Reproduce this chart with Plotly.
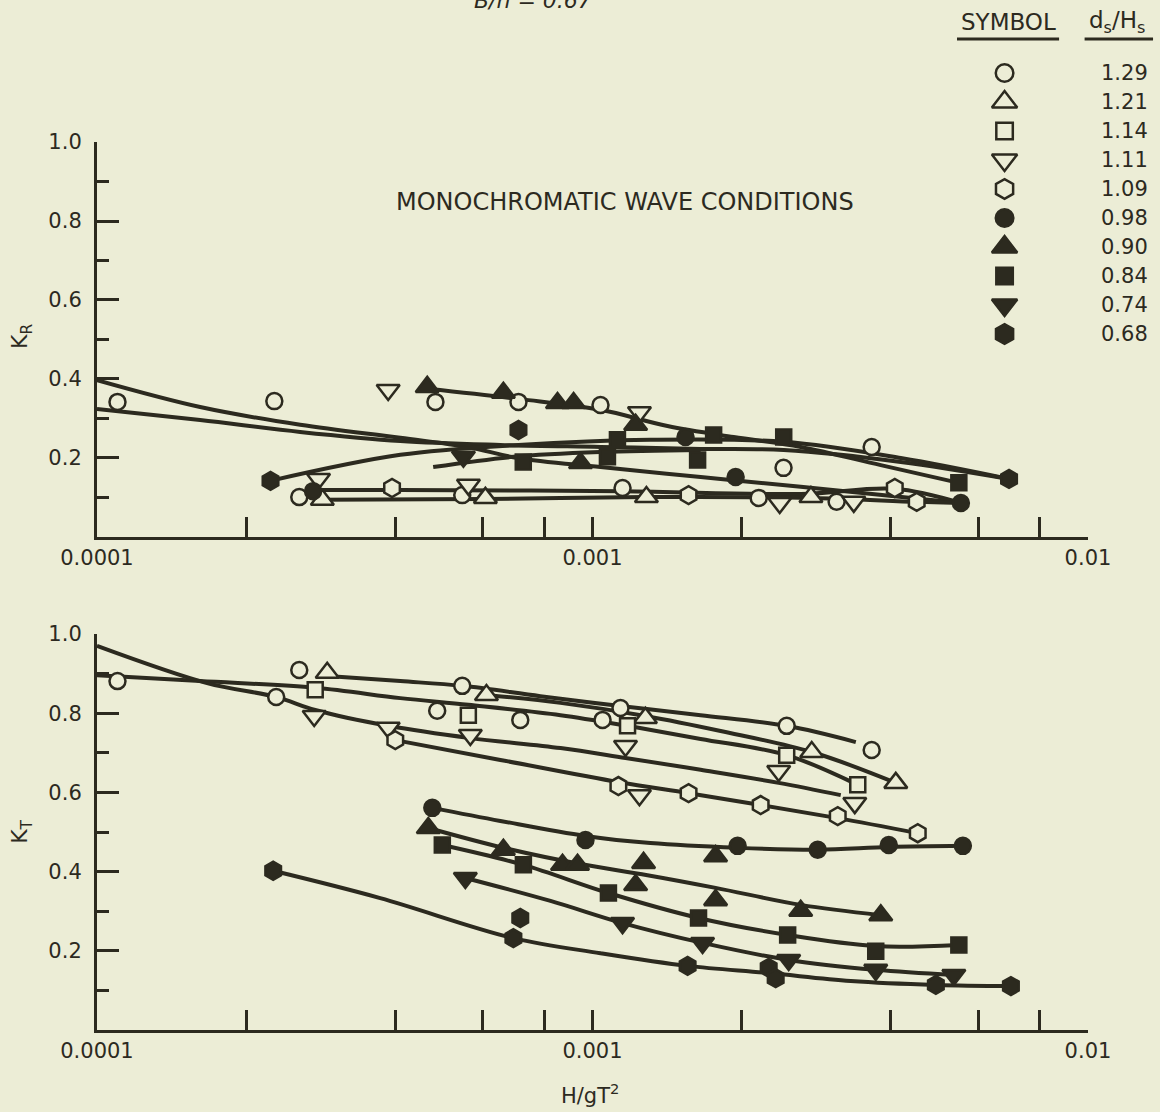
import plotly.graph_objects as go

INK = "#2c2a1f"
PAPER = "#ecedd6"
FONT = "DejaVu Sans, Liberation Sans, Arial, sans-serif"

# legend key: d_s/H_s values and their symbols
DS_HS = ["1.29", "1.21", "1.14", "1.11", "1.09", "0.98", "0.90", "0.84", "0.74", "0.68"]
SYMBOLS = ["circle", "triangle-up", "square", "triangle-down", "hexagon",
           "circle", "triangle-up", "square", "triangle-down", "hexagon"]
FILLED = [False] * 5 + [True] * 5

X_TICKS = [0.0001, 0.0002, 0.0004, 0.0006, 0.0008, 0.001, 0.002, 0.004, 0.006, 0.008, 0.01]
X_TICK_TEXT = ["0.0001", "", "", "", "", "0.001", "", "", "", "", "0.01"]
Y_TICKS = [0.2, 0.4, 0.6, 0.8, 1.0]
Y_TICK_TEXT = ["0.2", "0.4", "0.6", "0.8", "1.0"]
Y_MINOR = [0.1, 0.3, 0.5, 0.7, 0.9]

# ---- K_R (top panel) measured points ----
KR_X_129 = [1.10e-4, 2.28e-4, 4.82e-4, 7.09e-4, 1.038e-3, 3.66e-3, 2.56e-4, 5.46e-4, 1.15e-3, 2.165e-3, 2.43e-3, 3.11e-3]
KR_Y_129 = [0.342, 0.344, 0.342, 0.342, 0.334, 0.228, 0.101, 0.106, 0.124, 0.099, 0.175, 0.089]
KR_X_121 = [2.85e-4, 6.08e-4, 1.285e-3, 2.76e-3]
KR_Y_121 = [0.094, 0.099, 0.101, 0.101]
KR_X_114 = []
KR_Y_114 = []
KR_X_111 = [3.87e-4, 2.80e-4, 5.62e-4, 1.244e-3, 2.387e-3, 3.368e-3]
KR_Y_111 = [0.372, 0.147, 0.132, 0.316, 0.086, 0.089]
KR_X_109 = [3.94e-4, 1.563e-3, 4.075e-3, 4.512e-3]
KR_Y_109 = [0.124, 0.106, 0.124, 0.089]
KR_X_098 = [2.73e-4, 1.541e-3, 1.945e-3, 5.54e-3]
KR_Y_098 = [0.116, 0.253, 0.152, 0.086]
KR_X_090 = [4.64e-4, 6.61e-4, 8.50e-4, 9.16e-4, 1.222e-3, 9.46e-4]
KR_Y_090 = [0.380, 0.365, 0.339, 0.339, 0.284, 0.187]
KR_X_084 = [7.25e-4, 1.072e-3, 1.123e-3, 1.630e-3, 1.756e-3, 2.432e-3, 5.488e-3]
KR_Y_084 = [0.190, 0.203, 0.246, 0.195, 0.258, 0.253, 0.137]
KR_X_074 = [5.49e-4]
KR_Y_074 = [0.203]
KR_X_068 = [2.24e-4, 7.09e-4, 6.93e-3]
KR_Y_068 = [0.142, 0.271, 0.147]

# ---- K_R fitted curves ----
KR_CURVE_A_X = [1.0e-4, 1.615e-4, 2.571e-4, 4.095e-4, 5.59e-4, 7.055e-4, 1.038e-3, 1.653e-3, 2.632e-3, 5.539e-3]
KR_CURVE_A_Y = [0.397, 0.329, 0.284, 0.251, 0.228, 0.200, 0.177, 0.152, 0.127, 0.086]
KR_CURVE_B_X = [1.0e-4, 1.615e-4, 2.571e-4, 4.095e-4, 6.518e-4, 1.038e-3, 1.653e-3, 2.432e-3, 4.19e-3, 6.925e-3]
KR_CURVE_B_Y = [0.324, 0.296, 0.266, 0.243, 0.233, 0.228, 0.223, 0.220, 0.190, 0.147]
KR_CURVE_C_X = [4.64e-4, 7.15e-4, 1.038e-3, 1.417e-3, 1.927e-3, 2.632e-3, 3.818e-3, 5.488e-3]
KR_CURVE_C_Y = [0.375, 0.349, 0.322, 0.281, 0.253, 0.228, 0.182, 0.137]
KR_CURVE_D_X = [2.236e-4, 4.095e-4, 7.088e-4, 1.309e-3, 2.432e-3, 4.19e-3, 6.925e-3]
KR_CURVE_D_Y = [0.142, 0.208, 0.233, 0.246, 0.241, 0.200, 0.147]
KR_CURVE_E_X = [4.77e-4, 6.93e-4, 1.038e-3, 1.653e-3]
KR_CURVE_E_Y = [0.177, 0.203, 0.215, 0.220]
KR_CURVE_F_X = [2.732e-4, 4.095e-4, 1.150e-3, 2.632e-3, 4.075e-3, 5.539e-3]
KR_CURVE_F_Y = [0.119, 0.119, 0.116, 0.109, 0.122, 0.086]
KR_CURVE_G_X = [2.848e-4, 6.078e-4, 1.285e-3, 2.757e-3, 4.512e-3, 5.539e-3]
KR_CURVE_G_Y = [0.094, 0.096, 0.101, 0.099, 0.089, 0.086]

# ---- K_T (bottom panel) measured points ----
KT_X_129 = [1.10e-4, 2.56e-4, 2.30e-4, 5.46e-4, 4.86e-4, 7.15e-4, 1.048e-3, 1.139e-3, 2.466e-3, 3.66e-3]
KT_Y_129 = [0.881, 0.909, 0.841, 0.869, 0.806, 0.783, 0.783, 0.813, 0.768, 0.707]
KT_X_121 = [2.915e-4, 6.11e-4, 1.279e-3, 2.77e-3, 4.094e-3]
KT_Y_121 = [0.902, 0.846, 0.788, 0.702, 0.624]
KT_X_114 = [2.757e-4, 5.617e-4, 1.177e-3, 2.466e-3, 3.431e-3]
KT_Y_114 = [0.859, 0.795, 0.768, 0.694, 0.619]
KT_X_111 = [2.744e-4, 3.871e-4, 5.669e-4, 1.166e-3, 1.244e-3, 2.376e-3, 3.384e-3]
KT_Y_111 = [0.793, 0.763, 0.745, 0.717, 0.593, 0.654, 0.573]
KT_X_109 = [4.0e-4, 1.128e-3, 1.563e-3, 2.185e-3, 3.126e-3, 4.534e-3]
KT_Y_109 = [0.732, 0.616, 0.598, 0.568, 0.540, 0.497]
KT_X_098 = [4.751e-4, 9.68e-4, 1.963e-3, 2.848e-3, 3.963e-3, 5.591e-3]
KT_Y_098 = [0.561, 0.480, 0.465, 0.455, 0.467, 0.465]
KT_X_090 = [4.663e-4, 6.61e-4, 8.70e-4, 9.33e-4, 1.222e-3, 1.268e-3, 1.772e-3, 1.772e-3, 2.632e-3, 3.818e-3]
KT_Y_090 = [0.510, 0.455, 0.417, 0.417, 0.366, 0.422, 0.439, 0.328, 0.301, 0.290]
KT_X_084 = [4.977e-4, 7.254e-4, 1.077e-3, 1.637e-3, 2.477e-3, 3.73e-3, 5.488e-3]
KT_Y_084 = [0.467, 0.417, 0.346, 0.283, 0.240, 0.199, 0.215]
KT_X_074 = [5.539e-4, 1.150e-3, 1.668e-3, 2.489e-3, 3.73e-3, 5.362e-3]
KT_Y_074 = [0.384, 0.270, 0.220, 0.177, 0.152, 0.139]
KT_X_068 = [2.268e-4, 7.15e-4, 6.925e-4, 1.556e-3, 2.268e-3, 2.343e-3, 4.932e-3, 6.99e-3]
KT_Y_068 = [0.402, 0.283, 0.232, 0.162, 0.157, 0.131, 0.114, 0.111]

# ---- K_T fitted curves ----
KT_CURVE_129_X = [2.915e-4, 4.095e-4, 5.463e-4, 7.85e-4, 1.139e-3, 1.653e-3, 2.466e-3, 3.400e-3]
KT_CURVE_129_Y = [0.894, 0.881, 0.869, 0.843, 0.818, 0.795, 0.768, 0.727]
KT_CURVE_121_X = [6.107e-4, 8.62e-4, 1.279e-3, 1.814e-3, 2.770e-3, 4.094e-3]
KT_CURVE_121_Y = [0.846, 0.826, 0.793, 0.755, 0.702, 0.624]
KT_CURVE_114_X = [1.0e-4, 1.615e-4, 2.757e-4, 4.095e-4, 5.617e-4, 8.62e-4, 1.177e-3, 1.653e-3, 2.466e-3, 3.431e-3]
KT_CURVE_114_Y = [0.896, 0.881, 0.864, 0.838, 0.821, 0.795, 0.768, 0.735, 0.694, 0.619]
KT_CURVE_111_X = [1.0e-4, 1.668e-4, 2.299e-4, 2.757e-4, 3.871e-4, 5.669e-4, 8.62e-4, 1.166e-3, 1.653e-3, 2.376e-3, 3.170e-3]
KT_CURVE_111_Y = [0.970, 0.876, 0.841, 0.808, 0.768, 0.737, 0.712, 0.687, 0.657, 0.624, 0.593]
KT_CURVE_109_X = [4.0e-4, 6.518e-4, 1.128e-3, 1.563e-3, 2.185e-3, 3.126e-3, 4.534e-3]
KT_CURVE_109_Y = [0.732, 0.682, 0.626, 0.598, 0.568, 0.535, 0.497]
KT_CURVE_098_X = [4.751e-4, 6.518e-4, 9.681e-4, 1.309e-3, 1.963e-3, 2.848e-3, 3.963e-3, 5.591e-3]
KT_CURVE_098_Y = [0.561, 0.528, 0.490, 0.472, 0.460, 0.455, 0.462, 0.465]
KT_CURVE_090_X = [4.663e-4, 6.610e-4, 9.458e-4, 1.291e-3, 1.772e-3, 2.632e-3, 3.818e-3]
KT_CURVE_090_Y = [0.510, 0.460, 0.419, 0.391, 0.359, 0.316, 0.290]
KT_CURVE_084_X = [4.977e-4, 7.254e-4, 1.077e-3, 1.637e-3, 2.477e-3, 3.730e-3, 5.488e-3]
KT_CURVE_084_Y = [0.467, 0.417, 0.346, 0.283, 0.240, 0.212, 0.215]
KT_CURVE_074_X = [5.539e-4, 8.228e-4, 1.150e-3, 1.668e-3, 2.489e-3, 3.730e-3, 5.362e-3]
KT_CURVE_074_Y = [0.384, 0.326, 0.270, 0.220, 0.177, 0.152, 0.139]
KT_CURVE_068_X = [2.268e-4, 3.730e-4, 6.925e-4, 1.038e-3, 1.556e-3, 2.268e-3, 3.321e-3, 4.932e-3, 6.990e-3]
KT_CURVE_068_Y = [0.402, 0.333, 0.232, 0.194, 0.162, 0.144, 0.124, 0.114, 0.111]

KR_POINTS = [(KR_X_129, KR_Y_129), (KR_X_121, KR_Y_121), (KR_X_114, KR_Y_114), (KR_X_111, KR_Y_111),
             (KR_X_109, KR_Y_109), (KR_X_098, KR_Y_098), (KR_X_090, KR_Y_090), (KR_X_084, KR_Y_084),
             (KR_X_074, KR_Y_074), (KR_X_068, KR_Y_068)]
KT_POINTS = [(KT_X_129, KT_Y_129), (KT_X_121, KT_Y_121), (KT_X_114, KT_Y_114), (KT_X_111, KT_Y_111),
             (KT_X_109, KT_Y_109), (KT_X_098, KT_Y_098), (KT_X_090, KT_Y_090), (KT_X_084, KT_Y_084),
             (KT_X_074, KT_Y_074), (KT_X_068, KT_Y_068)]
KR_CURVES = [(KR_CURVE_A_X, KR_CURVE_A_Y), (KR_CURVE_B_X, KR_CURVE_B_Y), (KR_CURVE_C_X, KR_CURVE_C_Y),
             (KR_CURVE_D_X, KR_CURVE_D_Y), (KR_CURVE_E_X, KR_CURVE_E_Y), (KR_CURVE_F_X, KR_CURVE_F_Y),
             (KR_CURVE_G_X, KR_CURVE_G_Y)]
KT_CURVES = [(KT_CURVE_129_X, KT_CURVE_129_Y), (KT_CURVE_121_X, KT_CURVE_121_Y),
             (KT_CURVE_114_X, KT_CURVE_114_Y), (KT_CURVE_111_X, KT_CURVE_111_Y),
             (KT_CURVE_109_X, KT_CURVE_109_Y), (KT_CURVE_098_X, KT_CURVE_098_Y),
             (KT_CURVE_090_X, KT_CURVE_090_Y), (KT_CURVE_084_X, KT_CURVE_084_Y),
             (KT_CURVE_074_X, KT_CURVE_074_Y), (KT_CURVE_068_X, KT_CURVE_068_Y)]

MARKER_SIZE = {"circle": 16, "triangle-up": 20, "triangle-down": 20, "square": 15, "hexagon": 18}


def marker_style(i, scale=1.0):
    sym = SYMBOLS[i]
    return dict(
        symbol=sym,
        size=MARKER_SIZE[sym] * scale,
        color=INK if FILLED[i] else PAPER,
        line=dict(color=INK, width=2.5),
    )


fig = go.Figure()

# curves first, markers on top
for curves, xa, ya in [(KR_CURVES, "x", "y"), (KT_CURVES, "x2", "y2")]:
    for cx, cy in curves:
        fig.add_trace(go.Scatter(
            x=cx, y=cy, mode="lines", xaxis=xa, yaxis=ya,
            line=dict(color=INK, width=4, shape="spline", smoothing=1.0),
            showlegend=False, hoverinfo="skip",
        ))

for points, xa, ya in [(KR_POINTS, "x", "y"), (KT_POINTS, "x2", "y2")]:
    for i, (px, py) in enumerate(points):
        if not px:
            continue
        fig.add_trace(go.Scatter(
            x=px, y=py, mode="markers", xaxis=xa, yaxis=ya,
            marker=marker_style(i), name=DS_HS[i], showlegend=False, cliponaxis=False,
        ))

# legend key drawn as its own little axis
for i in range(len(DS_HS)):
    fig.add_trace(go.Scatter(
        x=[0.5], y=[i], mode="markers", xaxis="x3", yaxis="y3",
        marker=marker_style(i, 1.1), showlegend=False, hoverinfo="skip",
    ))

tick_font = dict(family=FONT, size=21, color=INK)


def x_axis(anchor):
    return dict(
        type="log", range=[-4, -2], domain=[0.0836, 0.9379], anchor=anchor,
        tickmode="array", tickvals=X_TICKS, ticktext=X_TICK_TEXT,
        ticks="inside", ticklen=20, tickwidth=3, tickcolor=INK,
        showline=True, linewidth=3, linecolor=INK, automargin=False,
        showgrid=False, zeroline=False, tickfont=tick_font, ticklabelstandoff=0,
    )


def y_axis(anchor, domain):
    return dict(
        range=[0, 1.0], domain=domain, anchor=anchor,
        tickmode="array", tickvals=Y_TICKS, ticktext=Y_TICK_TEXT,
        ticks="inside", ticklen=22, tickwidth=3, tickcolor=INK,
        minor=dict(tickvals=Y_MINOR, ticks="inside", ticklen=12, tickwidth=3, tickcolor=INK),
        showline=True, linewidth=3, linecolor=INK, automargin=False,
        showgrid=False, zeroline=False, tickfont=tick_font, ticklabelstandoff=8,
    )


def label(text, x, y, size, yref="paper", xanchor="center", angle=0):
    return dict(text=text, x=x, y=y, xref="paper", yref=yref, xanchor=xanchor, yanchor="middle",
                textangle=angle, showarrow=False, font=dict(family=FONT, size=size, color=INK))


annotations = [
    label("<i>B/h = 0.67</i>", 0.4595, 1.0, 22),
    label("MONOCHROMATIC WAVE CONDITIONS", 0.5388, 0.8183, 24),
    label("K<sub>R</sub>", 0.019, 0.697, 22, angle=-90),
    label("K<sub>T</sub>", 0.019, 0.252, 22, angle=-90),
    label("H/gT<sup>2</sup>", 0.509, 0.0162, 21),
    label("SYMBOL", 0.869, 0.9802, 23),
    label("d<sub>s</sub>/H<sub>s</sub>", 0.963, 0.9802, 23),
]
for i, val in enumerate(DS_HS):
    annotations.append(label(val, 0.9914, i, 21, yref="y3", xanchor="right"))

shapes = [
    dict(type="line", xref="paper", yref="paper", x0=0.825, x1=0.913, y0=0.9649, y1=0.9649,
         line=dict(color=INK, width=3)),
    dict(type="line", xref="paper", yref="paper", x0=0.935, x1=0.994, y0=0.9649, y1=0.9649,
         line=dict(color=INK, width=3)),
]

fig.update_layout(
    width=1160, height=1112,
    margin=dict(l=0, r=0, t=0, b=0),
    paper_bgcolor=PAPER, plot_bgcolor="rgba(0,0,0,0)",
    showlegend=False,
    xaxis=x_axis("y"),
    yaxis=y_axis("x", [0.5171, 0.8723]),
    xaxis2=x_axis("y2"),
    yaxis2=y_axis("x2", [0.0737, 0.4299]),
    xaxis3=dict(domain=[0.816, 0.916], range=[0, 1], anchor="y3", visible=False),
    yaxis3=dict(domain=[0.6866, 0.9474], range=[9.5, -0.5], anchor="x3", visible=False),
    annotations=annotations,
    shapes=shapes,
)

# drop the browser's default body margin so the figure sits at the page origin
fig.write_html("out.html", config={"displayModeBar": False},
               post_script="document.body.style.margin='0';")
